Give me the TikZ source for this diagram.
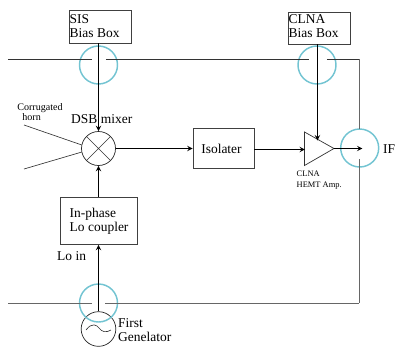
\documentclass[tikz,border=0pt]{standalone}
\usepackage{fontspec}
\setmainfont{Liberation Serif}
\usepackage{tikz}
\tikzset{
  labeltext/.style={inner sep=0pt,align=left,font=\fontsize{11.5}{12}\selectfont},
  smalltext/.style={inner sep=0pt,align=left,font=\fontsize{7.2}{9.4}\selectfont},
  horntext/.style={inner sep=0pt,align=left,font=\fontsize{8.6}{8.6}\selectfont},
  boxnode/.style={draw=black!75,line width=0.6pt,inner sep=0pt},
  ring/.style={draw=ringblue,line width=1.25pt,circle,inner sep=0pt,minimum size=1.14cm},
  wire/.style={black!80,line width=0.55pt},
  sig/.style={black,line width=1.05pt,->,>=stealth},
}
\definecolor{ringblue}{RGB}{115,196,210}
\begin{document}
\begin{tikzpicture}[scale=0.03]
      \useasboundingbox (0,0) rectangle (396,-349) ;
      % boxes
      \node[boxnode,minimum width=1.875cm,minimum height=0.99cm] (SIS) at (100.2,-26.5) {} ;
      \node[boxnode,minimum width=1.875cm,minimum height=0.96cm] (CLNA) at (319.2,-28) {} ;
      \node[boxnode,minimum width=1.83cm,minimum height=1.2cm] (ISO) at (223.5,-148) {} ;
      \node[boxnode,minimum width=2.295cm,minimum height=1.425cm] (CPL) at (98.7,-220.7) {} ;
      \node[labeltext,anchor=west] (SIStext) at (69.5,-26.5) {SIS\\Bias Box} ;
      \node[labeltext,anchor=west] (CLNAtext) at (288.5,-26.5) {CLNA\\Bias Box} ;
      \node[labeltext] (ISOtext) at (221.5,-148.5) {Isolater} ;
      \node[labeltext,anchor=west] (CPLtext) at (69.5,-221) {In-phase\\Lo coupler} ;
      % mixer and generator
      \node[draw=black!85,line width=0.6pt,circle,inner sep=0pt,minimum size=1.02cm] (MIX) at (98.5,-148.5) {} ;
      \draw[wire] (MIX.45)--(MIX.225) (MIX.135)--(MIX.315) ;
      \node[draw=black!85,line width=0.6pt,circle,inner sep=0pt,minimum size=1.04cm] (GEN) at (98.5,-329) {} ;
      \draw[wire] (86,-330) .. controls (92,-322) and (97,-325) .. (99,-328)
        .. controls (102,-332) and (106,-333) .. (111,-330) ;
      % horn
      \coordinate (HornA) at (24,-125) ;
      \coordinate (HornB) at (24,-169) ;
      \draw[wire] (HornA)--(MIX.168) ;
      \draw[wire] (HornB)--(MIX.192) ;
      \node[horntext] (HORN) at (40,-112.5) {Corrugated\\\ \ horn} ;
      % amplifier
      \coordinate (AmpA) at (304.5,-132) ;
      \coordinate (AmpB) at (304.5,-165.5) ;
      \coordinate (AmpC) at (334,-148.5) ;
      \coordinate (AmpIn) at (305,-149.5) ;
      \coordinate (AmpTop) at (317.5,-140.5) ;
      \draw[black!80,line width=0.6pt] (AmpA)--(AmpC)--(AmpB)--cycle ;
      \node[smalltext,anchor=north west] (AMP) at (296.5,-170.5) {CLNA\\HEMT Amp.} ;
      % rings
      \node[ring] (R1) at (98.5,-65) {} ;
      \node[ring] (R2) at (317,-65) {} ;
      \node[ring] (R3) at (359.7,-148) {} ;
      \node[ring] (R4) at (98.5,-303) {} ;
      % bias lines
      \coordinate (TopL) at (8,-59) ;
      \coordinate (TopA) at (92,-59) ;
      \coordinate (TopB) at (106,-59) ;
      \coordinate (TopC) at (309,-59) ;
      \coordinate (TopD) at (327,-59) ;
      \coordinate (Corner) at (359,-59) ;
      \coordinate (SideA) at (359,-129) ;
      \coordinate (SideB) at (359,-159) ;
      \coordinate (Low) at (359,-303) ;
      \coordinate (LowA) at (105,-303) ;
      \coordinate (LowB) at (92,-303) ;
      \coordinate (LowL) at (8,-303) ;
      \coordinate (IFend) at (362.5,-148.5) ;
      \draw[wire] (TopL)--(TopA) (TopB)--(TopC) (TopD)--(Corner) ;
      \draw[black!60,line width=0.6pt] (Corner)--(SideA) (SideB)--(Low) ;
      \draw[black!60,line width=0.55pt] (Low)--(LowA) (LowB)--(LowL) ;
      % signal path
      \draw[sig] (SIS.south -| MIX)--(MIX.north) ;
      \draw[sig] (CLNA.south -| AmpTop)--(AmpTop) ;
      \draw[sig] (MIX.east)--(MIX.east -| ISO.west) ;
      \draw[sig] (ISO.east |- AmpIn)--(AmpIn) ;
      \draw[sig] (AmpC)--(IFend) ;
      \draw[sig] (CPL.north -| MIX)--(MIX.south) ;
      \draw[sig] (GEN.north)--(CPL.south -| GEN) ;
      % labels
      \node[labeltext,anchor=west] (DSB) at (71,-119.5) {DSB mixer} ;
      \node[labeltext,anchor=west] (LOIN) at (57,-256) {Lo in} ;
      \node[labeltext,anchor=west] (GENtext) at (118,-330.5) {First\\Genelator} ;
      \node[labeltext,anchor=west] (IF) at (383,-149) {IF} ;
    \end{tikzpicture}
\end{document}
